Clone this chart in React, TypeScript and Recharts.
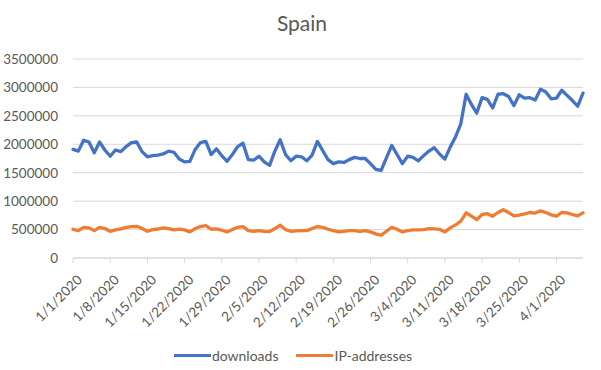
import { LineChart, Line, XAxis, YAxis, CartesianGrid, Legend } from "recharts";

// daily values, 1/1/2020 .. 4/6/2020
const downloads = [
  1910000, 1880000, 2070000, 2040000, 1850000, 2040000, 1900000, 1790000, 1900000, 1870000,
  1960000, 2030000, 2040000, 1870000, 1780000, 1800000, 1810000, 1830000, 1880000, 1860000,
  1740000, 1690000, 1700000, 1910000, 2030000, 2050000, 1820000, 1920000, 1800000, 1700000,
  1820000, 1960000, 2020000, 1730000, 1720000, 1790000, 1690000, 1630000, 1880000, 2080000,
  1820000, 1710000, 1790000, 1780000, 1710000, 1810000, 2050000, 1890000, 1730000, 1660000,
  1690000, 1680000, 1730000, 1770000, 1750000, 1750000, 1660000, 1560000, 1540000, 1760000,
  1980000, 1820000, 1660000, 1790000, 1770000, 1710000, 1800000, 1880000, 1940000, 1830000,
  1740000, 1950000, 2130000, 2360000, 2880000, 2700000, 2550000, 2820000, 2790000, 2640000,
  2880000, 2890000, 2840000, 2680000, 2870000, 2810000, 2820000, 2780000, 2970000, 2920000,
  2800000, 2810000, 2950000, 2860000, 2770000, 2670000, 2900000,
];

const ipAddresses = [
  505000, 482000, 540000, 530000, 482000, 540000, 518000, 470000, 494000, 512000,
  540000, 553000, 558000, 518000, 470000, 500000, 510000, 530000, 518000, 494000,
  506000, 494000, 459000, 518000, 553000, 570000, 506000, 512000, 488000, 459000,
  500000, 540000, 553000, 482000, 470000, 482000, 470000, 465000, 518000, 576000,
  500000, 470000, 476000, 482000, 482000, 518000, 553000, 540000, 506000, 480000,
  459000, 470000, 482000, 482000, 470000, 482000, 459000, 424000, 400000, 470000,
  540000, 506000, 459000, 482000, 494000, 495000, 500000, 518000, 512000, 505000,
  459000, 530000, 580000, 647000, 794000, 735000, 676000, 765000, 780000, 735000,
  800000, 850000, 800000, 740000, 755000, 776000, 800000, 790000, 830000, 800000,
  760000, 735000, 800000, 794000, 765000, 740000, 794000,
];

const monthLengths = [31, 29, 31, 30];
const yTicks = [0, 500000, 1000000, 1500000, 2000000, 2500000, 3000000, 3500000];

function buildDates(count: number) {
  const out: string[] = [];
  let m = 0;
  let d = 1;
  for (let i = 0; i < count; i++) {
    out.push(`${m + 1}/${d}/2020`);
    d++;
    if (d > monthLengths[m]) {
      m++;
      d = 1;
    }
  }
  return out;
}

const dates = buildDates(downloads.length);
const data = dates.map((date, i) => ({
  date,
  downloads: downloads[i],
  ip: ipAddresses[i],
}));

const FONT = "Lato, 'Open Sans', sans-serif";
const TEXT = "#595959";
const GRID = "#d9d9d9";
const BLUE = "#4472C4";
const ORANGE = "#ED7D31";

function DateTick({ x, y, payload }: any) {
  return (
    <g transform={`translate(${x + 8},${y + 11})`}>
      <text
        x={-2}
        y={0}
        dy="0.35em"
        transform="rotate(-45)"
        textAnchor="end"
        fill={TEXT}
        fontSize={13.5}
        fontFamily={FONT}
      >
        {payload.value}
      </text>
    </g>
  );
}

const legendItems = [
  { label: "downloads", color: BLUE },
  { label: "IP-addresses", color: ORANGE },
];

function LegendContent() {
  return (
    <div
      style={{
        display: "flex",
        justifyContent: "center",
        alignItems: "center",
        height: 30,
        fontFamily: FONT,
        fontSize: 14,
        color: TEXT,
        paddingLeft: 3,
        boxSizing: "border-box",
      }}
    >
      {legendItems.map((it) => (
        <span key={it.label} style={{ display: "flex", alignItems: "center", margin: "0 9px" }}>
          <span style={{ display: "inline-block", width: 37, height: 3, background: it.color, marginRight: 1 }} />
          {it.label}
        </span>
      ))}
    </div>
  );
}

export default function App() {
  return (
    <div style={{ position: "absolute", left: 0, top: 0, width: 601, height: 370, background: "#fff" }}>
      <div
        style={{
          position: "absolute",
          top: 10,
          left: 0,
          width: 601,
          textAlign: "center",
          fontFamily: FONT,
          fontSize: 21,
          lineHeight: "26px",
          color: TEXT,
          paddingLeft: 3,
          boxSizing: "border-box",
        }}
      >
        Spain
      </div>
      <LineChart width={601} height={370} data={data} margin={{ top: 59, right: 18, left: 0, bottom: 0 }}>
        <CartesianGrid vertical={false} stroke={GRID} />
        <XAxis
          dataKey="date"
          interval={6}
          height={82}
          tickSize={5}
          tickMargin={2}
          stroke={GRID}
          tickLine={{ stroke: GRID }}
          axisLine={{ stroke: GRID }}
          tick={<DateTick />}
        />
        <YAxis
          width={73}
          domain={[0, 3500000]}
          ticks={yTicks}
          interval={0}
          axisLine={false}
          tickLine={false}
          tickSize={6}
          tickMargin={9}
          tick={{ fill: TEXT, fontSize: 13.5, fontFamily: FONT }}
        />
        <Legend verticalAlign="bottom" height={30} content={<LegendContent />} />
        <Line
          type="linear"
          dataKey="downloads"
          name="downloads"
          stroke={BLUE}
          strokeWidth={3.3}
          dot={false}
          strokeLinejoin="round"
          strokeLinecap="round"
          isAnimationActive={false}
        />
        <Line
          type="linear"
          dataKey="ip"
          name="IP-addresses"
          stroke={ORANGE}
          strokeWidth={3.3}
          dot={false}
          strokeLinejoin="round"
          strokeLinecap="round"
          isAnimationActive={false}
        />
      </LineChart>
    </div>
  );
}
